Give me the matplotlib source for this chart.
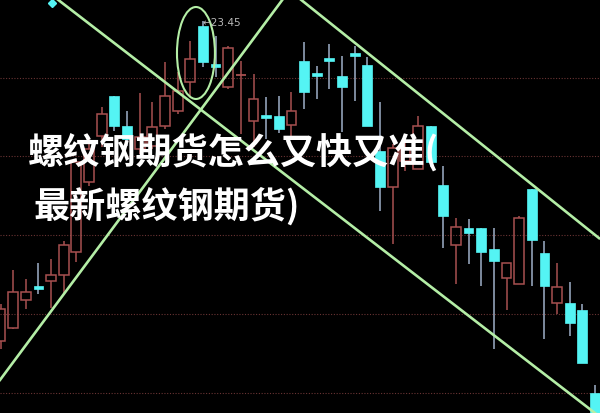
import matplotlib
matplotlib.use("Agg")
import matplotlib.pyplot as plt
from matplotlib.patches import Rectangle, Ellipse

plt.rcParams['font.family'] = ['Noto Sans CJK SC', 'DejaVu Sans']

# ---- data (OHLC) ----
opens  = [20.25, 20.38, 20.66, 20.80, 20.85, 20.91, 21.14, 21.84, 22.30, 22.70,
          22.40, 22.17, 22.20, 22.40, 22.55, 22.84, 23.40, 23.02, 22.79, 22.91,
          22.45, 22.51, 22.50, 22.41, 23.05, 22.93, 23.08, 22.90, 23.13, 23.01,
          22.15, 21.79, 22.05, 21.97, 22.40, 21.81, 21.21, 21.38, 21.38, 21.17,
          20.88, 20.82, 21.77, 21.13, 20.63, 20.63, 20.56, 19.73]
closes = [20.57, 20.74, 20.74, 20.77, 20.91, 21.21, 22.04, 22.17, 22.52, 22.40,
          22.27, 22.29, 22.39, 22.70, 22.75, 23.07, 23.04, 22.99, 23.18, 22.91,
          22.67, 22.49, 22.37, 22.55, 22.74, 22.91, 23.06, 22.79, 23.11, 22.40,
          21.79, 22.18, 22.17, 22.40, 22.04, 21.50, 21.39, 21.33, 21.14, 21.05,
          21.03, 21.48, 21.26, 20.80, 20.79, 20.43, 20.03, 19.47]
highs  = [20.62, 20.96, 20.87, 21.03, 21.07, 21.25, 22.07, 22.27, 22.59, 22.70,
          22.55, 22.73, 22.64, 23.04, 22.94, 23.25, 23.45, 23.30, 23.20, 23.05,
          22.92, 22.69, 22.70, 22.74, 23.24, 23.00, 23.22, 23.10, 23.20, 23.09,
          22.64, 22.22, 22.27, 22.50, 22.40, 22.00, 21.48, 21.47, 21.38, 21.38,
          21.03, 21.50, 21.77, 21.25, 21.03, 20.84, 20.62, 19.81]
lows   = [20.17, 20.37, 20.57, 20.72, 20.58, 20.72, 21.04, 21.80, 22.19, 22.35,
          22.20, 22.12, 22.17, 22.37, 22.52, 22.70, 22.99, 22.89, 22.77, 22.32,
          22.19, 22.27, 22.33, 22.27, 22.57, 22.67, 22.77, 22.34, 22.65, 22.40,
          21.55, 21.22, 21.95, 21.97, 21.99, 21.18, 20.82, 21.02, 20.80, 20.17,
          20.56, 20.82, 20.80, 20.27, 20.52, 20.30, 20.03, 19.47]

peak_label = "←23.45"
title_line1 = "螺纹钢期货怎么又快又准("
title_line2 = "最新螺纹钢期货)"

# trend lines (x index, price) endpoints
trend_lines = [
    ([4.47, 47.4], [23.67, 19.49]),
    ([-0.1, 22.33], [19.85, 23.67]),
    ([23.68, 47.4], [23.67, 21.27]),
]
ellipse_center = (15.45, 23.13)
ellipse_size = (3.0, 0.92)
grid_levels = [22.88, 22.10, 21.31, 20.52, 19.73]
marker_pt = (4.07, 23.63)

# ---- style ----
UP = "#a85050"
DOWN = "#54f4f4"
DOWN_WICK = "#9fb0c8"
GREEN = "#b4eea6"

fig = plt.figure(figsize=(6.0, 4.14), dpi=100)
fig.patch.set_facecolor("black")
ax = fig.add_axes([0, 0, 1, 1])
ax.set_facecolor("black")
ax.set_xlim(-0.04, 47.39)
ax.set_ylim(19.53, 23.67)
for s in ax.spines.values():
    s.set_visible(False)
ax.set_xticks([])
ax.set_yticks([])

for lv in grid_levels:
    ax.axhline(lv, color="#6a3434", lw=0.8, ls=(0, (1, 1.5)), zorder=0)

w = 0.78
minh = 0.03
for i, (o, h, l, c) in enumerate(zip(opens, highs, lows, closes)):
    top, bot = max(o, c), min(o, c)
    if c >= o:
        if top - bot < minh:
            ax.vlines(i, l, h, color=UP, lw=1.1, zorder=2)
            ax.hlines(top, i - w / 2, i + w / 2, color=UP, lw=1.3, zorder=2)
        else:
            ax.vlines(i, top, h, color=UP, lw=1.1, zorder=2)
            ax.vlines(i, l, bot, color=UP, lw=1.1, zorder=2)
            ax.add_patch(Rectangle((i - w / 2, bot), w, top - bot,
                                   facecolor="none", edgecolor=UP, lw=1.1, zorder=2))
    else:
        ax.vlines(i, l, h, color=DOWN_WICK, lw=1.1, zorder=2)
        hh = max(top - bot, minh)
        ax.add_patch(Rectangle((i - w / 2, top - hh), w, hh,
                               facecolor=DOWN, edgecolor=DOWN, lw=0.5, zorder=2.1))

for xs, ys in trend_lines:
    ax.plot(xs, ys, color=GREEN, lw=1.9, zorder=3, solid_capstyle="butt")

ax.add_patch(Ellipse(ellipse_center, ellipse_size[0], ellipse_size[1],
                     facecolor="none", edgecolor=GREEN, lw=1.5, zorder=3))

ax.plot([marker_pt[0]], [marker_pt[1]], marker="D", ms=4, color=DOWN, zorder=3)

ax.text(15.95, 23.44, peak_label, color="#b8b8b8", fontsize=7.5,
        family=["DejaVu Sans"], ha="left", va="center", zorder=4)

ax.text(28 / 600, 1 - 152 / 414, title_line1, transform=ax.transAxes,
        color="white", fontsize=26, fontweight="bold", ha="left", va="center", zorder=5)
ax.text(33 / 600, 1 - 206 / 414, title_line2, transform=ax.transAxes,
        color="white", fontsize=26, fontweight="bold", ha="left", va="center", zorder=5)

fig.savefig("out.png", dpi=100, facecolor="black")
